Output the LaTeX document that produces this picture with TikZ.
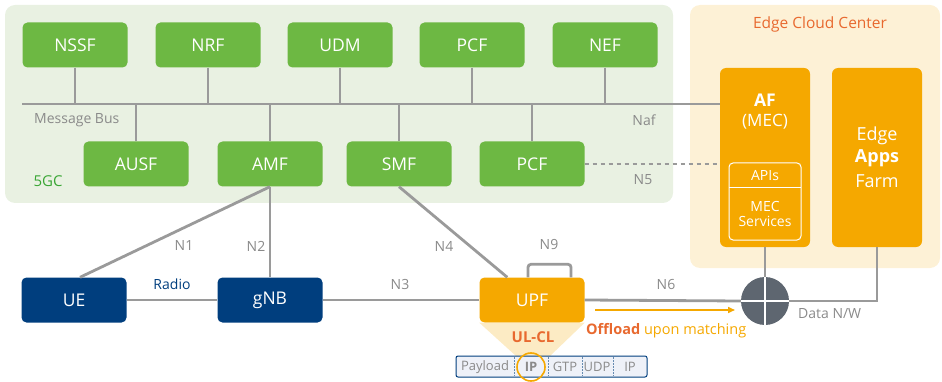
\documentclass[tikz,border=0pt]{standalone}
\usepackage{fontspec}
\setmainfont{Open Sans}
\usetikzlibrary{arrows.meta,calc}
\definecolor{nfgreen}{HTML}{6DB843}
\definecolor{corebg}{HTML}{E9F1E2}
\definecolor{edgebg}{HTML}{FDF1D6}
\definecolor{amber}{HTML}{F5A800}
\definecolor{ranblue}{HTML}{003E7E}
\definecolor{wire}{HTML}{9A9A9A}
\definecolor{hubgray}{HTML}{5E6670}
\definecolor{accent}{HTML}{E8692F}
\definecolor{labelgray}{HTML}{8A8A8A}
\definecolor{hdrfill}{HTML}{EEF1F8}
\definecolor{lblgreen}{HTML}{3AA635}
\definecolor{trap}{HTML}{FCEBC4}
\begin{document}
\begin{tikzpicture}[x=1pt,y=-1pt,
  nfbox/.style={rounded corners=5pt,fill=nfgreen,text=white,minimum width=105pt,minimum height=45pt,font=\fontsize{17.5}{19}\selectfont,inner sep=0pt},
  ranbox/.style={nfbox,fill=ranblue},
  upfbox/.style={nfbox,fill=amber},
  edgebox/.style={rounded corners=6pt,fill=amber,text=white,minimum width=90pt,minimum height=179pt,inner sep=0pt},
  wireline/.style={draw=wire,line width=2.8pt},
  lbl/.style={text=labelgray,font=\fontsize{14}{16}\selectfont,inner sep=0pt},
  hdr/.style={text=labelgray,font=\fontsize{13}{15}\selectfont,inner sep=0pt}]
\useasboundingbox (0,0) rectangle (942,382);
% domain backgrounds
\fill[corebg,rounded corners=10pt] (5,5) rectangle (673,203);
\fill[edgebg,rounded corners=10pt] (690,5) rectangle (940,268);
\node[text=accent,font=\fontsize{15.5}{17}\selectfont,inner sep=0pt] (ecc) at (820,24) {Edge Cloud Center};
\node[text=lblgreen,font=\fontsize{15}{17}\selectfont,inner sep=0pt] (fivegc) at (48,181) {5GC};
% network functions
\node[nfbox] (nssf) at (75,45) {NSSF};
\node[nfbox] (nrf) at (208,45) {NRF};
\node[nfbox] (udm) at (340,45) {UDM};
\node[nfbox] (pcf1) at (472,45) {PCF};
\node[nfbox] (nef) at (605,45) {NEF};
\node[nfbox] (ausf) at (136,164) {AUSF};
\node[nfbox] (amf) at (270,164) {AMF};
\node[nfbox] (smf) at (399,164) {SMF};
\node[nfbox] (pcf2) at (532,164) {PCF};
% edge cloud
\node[edgebox] (af) at (765,157.5) {};
\node[edgebox] (farm) at (877,157.5) {};
\node[text=white,font=\fontsize{17.5}{19}\selectfont\bfseries,inner sep=0pt] (aft) at (765,100) {AF};
\node[text=white,font=\fontsize{17}{19}\selectfont,inner sep=0pt] (afm) at (765,122) {(MEC)};
\node[text=white,font=\fontsize{18}{20}\selectfont,inner sep=0pt] (fe) at (877,136) {Edge};
\node[text=white,font=\fontsize{18}{20}\selectfont\bfseries,inner sep=0pt] (fa) at (877,158) {Apps};
\node[text=white,font=\fontsize{18}{20}\selectfont,inner sep=0pt] (ff) at (877,181) {Farm};
\draw[white,line width=1pt,rounded corners=4pt] (729,163) rectangle (801,240);
\draw[white,line width=1pt] (729,188) -- (801,188);
\node[text=white,font=\fontsize{14}{16}\selectfont,inner sep=0pt] (apis) at (765,176) {APIs};
\node[text=white,font=\fontsize{14}{16}\selectfont,align=center,inner sep=0pt] (mecs) at (765,214) {MEC\\[-1pt]Services};
% message bus
\coordinate (busL) at (22,104);
\draw[wireline] (busL) -- (busL -| af.west);
\foreach \n in {nssf,nrf,udm,pcf1,nef}{\draw[wireline] (\n.south) -- (\n.south |- busL);}
\foreach \n in {ausf,amf,smf,pcf2}{\draw[wireline] (\n.north) -- (\n.north |- busL);}
\node[lbl,anchor=west] (mbus) at (34,120) {Message Bus};
\node[lbl] (naf) at (644,120) {Naf};
\draw[wire,line width=2.8pt,dash pattern=on 4pt off 4pt] (pcf2.east) -- (pcf2.east -| af.west);
\node[lbl] (n5) at (643,180) {N5};
% access and user plane
\node[ranbox] (ue) at (74,300) {UE};
\node[ranbox] (gnb) at (270,300) {gNB};
\node[upfbox] (upf) at (532,300) {UPF};
\node[circle,fill=hubgray,minimum size=48pt,inner sep=0pt] (hub) at (765,301) {};
\draw[white,line width=1.8pt] (hub.north) -- (hub.south) (hub.west) -- (hub.east);
% UL-CL taper and packet header
\fill[trap] (upf.south west) -- (upf.south east) -- (550,356) -- (516,356) -- cycle;
\node[text=accent,font=\fontsize{15}{17}\selectfont\bfseries,inner sep=0pt] (ulcl) at (533,337) {UL-CL};
\draw[ranblue,fill=hdrfill,line width=1pt,rounded corners=2pt] (456,356) rectangle (647,377);
\foreach \x in {514,548,582,613}{\draw[ranblue!60,line width=0.8pt,dash pattern=on 1.5pt off 1.5pt] (\x,357) -- (\x,376);}
\node[hdr] (pay) at (485,367) {Payload};
\node[hdr,font=\fontsize{13}{15}\selectfont\bfseries] (ip1) at (531,367) {IP};
\node[hdr] (gtp) at (565,367) {GTP};
\node[hdr] (udp) at (597,367) {UDP};
\node[hdr] (ip2) at (630,367) {IP};
\draw[amber,line width=1.6pt] (ip1) circle (14pt);
% connectors
\draw[wireline] (ue.north) ++(6,0) -- (amf.south);
\draw[wireline] (gnb.north) -- (amf.south);
\draw[wireline] (smf.south) -- ($(upf.north west)+(28,0)$);
\draw[wireline] (ue.east) -- (gnb.west);
\draw[wireline] (gnb.east) -- (upf.west);
\draw[wireline] (upf.east) -- (hub.west);
\draw[wireline] (af.south) -- (hub.north);
\coordinate (dnw) at (farm.south |- hub.east);
\draw[wireline] (hub.east) -- (dnw) -- (farm.south);
\draw[wire,line width=2.8pt,rounded corners=3pt] ($(upf.north)+(-4,0)$) -- ++(0,-13) -- ++(43,0) -- ++(0,13);
\draw[amber,line width=1.5pt,-{Triangle[length=7pt,width=6pt]}] (595,310) -- (735,310);
% labels
\node[lbl] (n1) at (184,246) {N1};
\node[lbl] (n2) at (256,246) {N2};
\node[lbl] (n4) at (444,246) {N4};
\node[lbl] (n9) at (549,244) {N9};
\node[lbl] (n3) at (400,284) {N3};
\node[lbl] (n6) at (666,284) {N6};
\node[text=ranblue,font=\fontsize{14}{16}\selectfont,inner sep=0pt] (radio) at (172,284) {Radio};
\node[lbl,anchor=west] (dn) at (798,314) {Data N/W};
\node[anchor=west,font=\fontsize{14.5}{17}\selectfont,inner sep=0pt] (offl) at (586,331) {\textcolor{accent}{\bfseries Offload} \textcolor{amber}{upon matching}};
\end{tikzpicture}
\end{document}
